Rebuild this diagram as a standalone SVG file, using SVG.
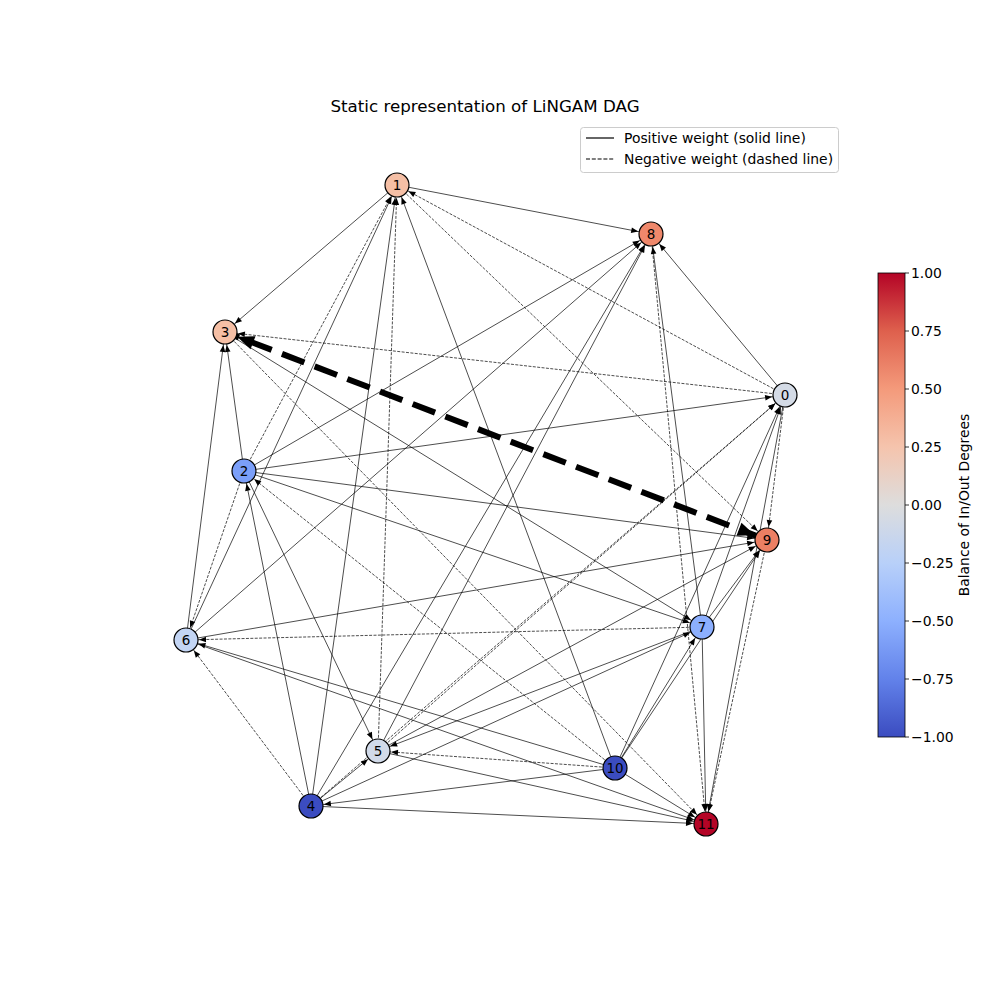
<svg xmlns="http://www.w3.org/2000/svg" width="1000" height="1000" viewBox="0 0 1000 1000">
<style>
text{font-family:"DejaVu Sans","Liberation Sans",sans-serif;fill:#000}
.e line{stroke:#000;stroke-width:0.7;fill:none}
.e line.n{stroke-dasharray:3,1.4}
.e line{marker-end:url(#a)}
.e line.t{stroke-width:6;stroke-dasharray:24,11;stroke-dashoffset:-26;marker-end:url(#b);marker-start:url(#b)}
.nd circle{stroke:#000;stroke-width:1.2}
.nd text{font-size:13.5px;text-anchor:middle}
.tk{font-size:13.9px}
</style>
<defs>
<marker id="a" markerUnits="userSpaceOnUse" markerWidth="10" markerHeight="10" refX="13" refY="0" orient="auto" overflow="visible">
<path d="M-7,-2.8 L0,0 L-7,2.8 Z" fill="#000"/>
</marker>
<marker id="b" markerUnits="userSpaceOnUse" markerWidth="10" markerHeight="10" refX="13" refY="0" orient="auto-start-reverse" overflow="visible">
<path d="M-17,-7 L0,0 L-17,7 Z" fill="#000"/>
</marker>
<linearGradient id="cw" x1="0" y1="1" x2="0" y2="0">
<stop offset="0" stop-color="#3b4cc0"/>
<stop offset="0.125" stop-color="#6282ea"/>
<stop offset="0.25" stop-color="#8db0fe"/>
<stop offset="0.375" stop-color="#b8d0f9"/>
<stop offset="0.5" stop-color="#dddddd"/>
<stop offset="0.625" stop-color="#f5c4ad"/>
<stop offset="0.75" stop-color="#f49a7b"/>
<stop offset="0.875" stop-color="#de604d"/>
<stop offset="1" stop-color="#b40426"/>
</linearGradient>
</defs>
<rect width="1000" height="1000" fill="#fff"/>
<text x="485" y="112" font-size="16.7" text-anchor="middle">Static representation of LiNGAM DAG</text>

<g id="legend">
<rect x="580.5" y="127.5" width="258" height="45" rx="3" fill="#fff" stroke="#ccc"/>
<line x1="586" y1="138" x2="614" y2="138" stroke="#000" stroke-width="1.2"/>
<text x="624" y="143" font-size="13.9">Positive weight (solid line)</text>
<line x1="586" y1="159" x2="614" y2="159" stroke="#000" stroke-width="1.2" stroke-dasharray="4,1.8"/>
<text x="624" y="164" font-size="13.9">Negative weight (dashed line)</text>
</g>

<g id="edges" class="e">
<line x1="397" y1="185" x2="651" y2="234"/>
<line x1="397" y1="185" x2="225" y2="332"/>
<line class="n" x1="785" y1="395" x2="397" y2="185"/>
<line class="n" x1="397" y1="185" x2="767" y2="540"/>
<line x1="785" y1="395" x2="651" y2="234"/>
<line class="n" x1="785" y1="395" x2="225" y2="332"/>
<line x1="244" y1="471" x2="785" y2="395"/>
<line class="n" x1="785" y1="395" x2="767" y2="540"/>
<line x1="785" y1="395" x2="706" y2="824"/>
<line x1="615" y1="768" x2="785" y2="395"/>
<line x1="702" y1="627" x2="785" y2="395"/>
<line class="n" x1="378" y1="751" x2="785" y2="395"/>
<line class="n" x1="311" y1="806" x2="785" y2="395"/>
<line x1="244" y1="471" x2="767" y2="540"/>
<line x1="244" y1="471" x2="702" y2="627"/>
<line x1="244" y1="471" x2="378" y2="751"/>
<line x1="244" y1="471" x2="651" y2="234"/>
<line class="n" x1="244" y1="471" x2="397" y2="185"/>
<line x1="244" y1="471" x2="225" y2="332"/>
<line class="n" x1="244" y1="471" x2="186" y2="640"/>
<line class="n" x1="615" y1="768" x2="244" y2="471"/>
<line x1="186" y1="640" x2="767" y2="540"/>
<line class="n" x1="702" y1="627" x2="186" y2="640"/>
<line x1="186" y1="640" x2="651" y2="234"/>
<line x1="186" y1="640" x2="397" y2="185"/>
<line x1="186" y1="640" x2="225" y2="332"/>
<line x1="225" y1="332" x2="702" y2="627"/>
<line class="n" x1="225" y1="332" x2="706" y2="824"/>
<line x1="311" y1="806" x2="397" y2="185"/>
<line x1="311" y1="806" x2="244" y2="471"/>
<line class="n" x1="311" y1="806" x2="186" y2="640"/>
<line x1="311" y1="806" x2="378" y2="751"/>
<line x1="311" y1="806" x2="651" y2="234"/>
<line x1="311" y1="806" x2="702" y2="627"/>
<line x1="311" y1="806" x2="706" y2="824"/>
<line x1="615" y1="768" x2="311" y2="806"/>
<line x1="615" y1="768" x2="397" y2="185"/>
<line class="n" x1="615" y1="768" x2="378" y2="751"/>
<line x1="615" y1="768" x2="186" y2="640"/>
<line x1="615" y1="768" x2="702" y2="627"/>
<line x1="615" y1="768" x2="767" y2="540"/>
<line x1="615" y1="768" x2="706" y2="824"/>
<line class="n" x1="378" y1="751" x2="397" y2="185"/>
<line x1="702" y1="627" x2="378" y2="751"/>
<line x1="378" y1="751" x2="767" y2="540"/>
<line x1="378" y1="751" x2="706" y2="824"/>
<line x1="378" y1="751" x2="651" y2="234"/>
<line x1="702" y1="627" x2="651" y2="234"/>
<line class="n" x1="651" y1="234" x2="706" y2="824"/>
<line x1="702" y1="627" x2="767" y2="540"/>
<line x1="702" y1="627" x2="706" y2="824"/>
<line class="n" x1="767" y1="540" x2="706" y2="824"/>
<line x1="186" y1="640" x2="706" y2="824"/>
<line class="t" x1="225" y1="332" x2="767" y2="540"/>
</g>

<g id="node0" class="nd"><circle cx="785" cy="395" r="12" fill="#d4dbe6"/><text x="785" y="400">0</text></g>
<g id="node1" class="nd"><circle cx="397" cy="185" r="12" fill="#f5bfa5"/><text x="397" y="190">1</text></g>
<g id="node2" class="nd"><circle cx="244" cy="471" r="12" fill="#7b9ff9"/><text x="244" y="476">2</text></g>
<g id="node3" class="nd"><circle cx="225" cy="332" r="12" fill="#f5bfa5"/><text x="225" y="337">3</text></g>
<g id="node4" class="nd"><circle cx="311" cy="806" r="12" fill="#3b4cc0"/><text x="311" y="811">4</text></g>
<g id="node5" class="nd"><circle cx="378" cy="751" r="12" fill="#d1dae9"/><text x="378" y="756">5</text></g>
<g id="node6" class="nd"><circle cx="186" cy="640" r="12" fill="#c3d5f4"/><text x="186" y="645">6</text></g>
<g id="node7" class="nd"><circle cx="702" cy="627" r="12" fill="#8caffe"/><text x="702" y="632">7</text></g>
<g id="node8" class="nd"><circle cx="651" cy="234" r="12" fill="#ef886b"/><text x="651" y="239">8</text></g>
<g id="node9" class="nd"><circle cx="767" cy="540" r="12" fill="#ec7f63"/><text x="767" y="545">9</text></g>
<g id="node10" class="nd"><circle cx="615" cy="768" r="12" fill="#3b4cc0"/><text x="615" y="773">10</text></g>
<g id="node11" class="nd"><circle cx="706" cy="824" r="12" fill="#b40426"/><text x="706" y="829">11</text></g>

<g id="colorbar">
<rect x="878" y="273" width="27" height="464" fill="url(#cw)" stroke="#000" stroke-width="0.8"/>
<g stroke="#000" stroke-width="0.8">
<line x1="905" y1="273" x2="909" y2="273"/><line x1="905" y1="331" x2="909" y2="331"/>
<line x1="905" y1="389" x2="909" y2="389"/><line x1="905" y1="447" x2="909" y2="447"/>
<line x1="905" y1="505" x2="909" y2="505"/><line x1="905" y1="563" x2="909" y2="563"/>
<line x1="905" y1="621" x2="909" y2="621"/><line x1="905" y1="679" x2="909" y2="679"/>
<line x1="905" y1="737" x2="909" y2="737"/>
</g>
<text class="tk" x="911" y="278">1.00</text>
<text class="tk" x="911" y="336">0.75</text>
<text class="tk" x="911" y="394">0.50</text>
<text class="tk" x="911" y="452">0.25</text>
<text class="tk" x="911" y="510">0.00</text>
<text class="tk" x="911" y="568">−0.25</text>
<text class="tk" x="911" y="626">−0.50</text>
<text class="tk" x="911" y="684">−0.75</text>
<text class="tk" x="911" y="742">−1.00</text>
<text x="969" y="505" font-size="13.9" text-anchor="middle" transform="rotate(-90 969 505)">Balance of In/Out Degrees</text>
</g>
</svg>
